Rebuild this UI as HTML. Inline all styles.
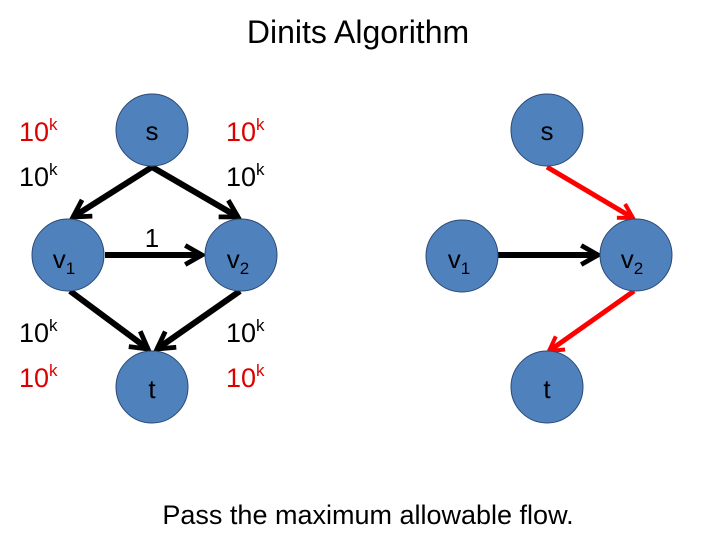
<!DOCTYPE html>
<html><head><meta charset="utf-8"><style>
body{margin:0;background:#fff}
svg{display:block;font-family:"Liberation Sans",sans-serif}
</style></head><body>
<svg width="720" height="540" viewBox="0 0 720 540">
<defs>
<marker id="ab" viewBox="0 0 10 10" refX="8" refY="5" markerWidth="4" markerHeight="4" orient="auto"><path d="M1,1 L8,5 L1,9" fill="none" stroke="#000" stroke-width="2"/></marker>
<marker id="ar" viewBox="0 0 10 10" refX="8" refY="5" markerWidth="4" markerHeight="4" orient="auto"><path d="M1,1 L8,5 L1,9" fill="none" stroke="#f00" stroke-width="2"/></marker>
</defs>
<text x="358" y="43" font-size="32" text-anchor="middle" fill="#000">Dinits Algorithm</text>
<g stroke="#000" stroke-width="6" marker-end="url(#ab)">
<line x1="152" y1="167" x2="73" y2="217"/>
<line x1="152" y1="167" x2="238" y2="217"/>
<line x1="105" y1="255" x2="202" y2="255"/>
<line x1="70" y1="291" x2="148" y2="349"/>
<line x1="240" y1="291" x2="157" y2="349"/>
<line x1="498" y1="255" x2="598" y2="255"/>
</g>
<g stroke="#f00" stroke-width="5" marker-end="url(#ar)">
<line x1="547" y1="167" x2="633" y2="218"/>
<line x1="634" y1="291" x2="549" y2="351"/>
</g>
<g fill="#4f81bd" stroke="#2c4a75" stroke-width="1">
<circle cx="152" cy="130" r="36"/><circle cx="68" cy="255" r="36"/><circle cx="241" cy="255" r="36"/><circle cx="152" cy="387" r="36"/>
<circle cx="547" cy="130" r="36"/><circle cx="462" cy="256" r="36"/><circle cx="636" cy="255" r="36"/><circle cx="547" cy="387" r="36"/>
</g>
<g font-size="26" fill="#000" text-anchor="middle">
<text x="152" y="140">s</text><text x="547" y="140">s</text>
<text x="152" y="398">t</text><text x="547" y="398">t</text>
<text x="64" y="268">v<tspan font-size="17" dy="6">1</tspan></text>
<text x="238" y="268">v<tspan font-size="17" dy="6">2</tspan></text>
<text x="459" y="268">v<tspan font-size="17" dy="6">1</tspan></text>
<text x="632" y="268">v<tspan font-size="17" dy="6">2</tspan></text>
<text x="152" y="247">1</text>
</g>
<g font-size="27">
<text x="19" y="141" fill="#d00">10<tspan font-size="17" dy="-11">k</tspan></text>
<text x="19" y="186" fill="#000">10<tspan font-size="17" dy="-11">k</tspan></text>
<text x="226" y="141" fill="#d00">10<tspan font-size="17" dy="-11">k</tspan></text>
<text x="226" y="186" fill="#000">10<tspan font-size="17" dy="-11">k</tspan></text>
<text x="19" y="342" fill="#000">10<tspan font-size="17" dy="-11">k</tspan></text>
<text x="19" y="387" fill="#d00">10<tspan font-size="17" dy="-11">k</tspan></text>
<text x="226" y="342" fill="#000">10<tspan font-size="17" dy="-11">k</tspan></text>
<text x="226" y="387" fill="#d00">10<tspan font-size="17" dy="-11">k</tspan></text>
</g>
<text x="368" y="524" font-size="27" text-anchor="middle" fill="#000">Pass the maximum allowable flow.</text>
</svg>
</body></html>
